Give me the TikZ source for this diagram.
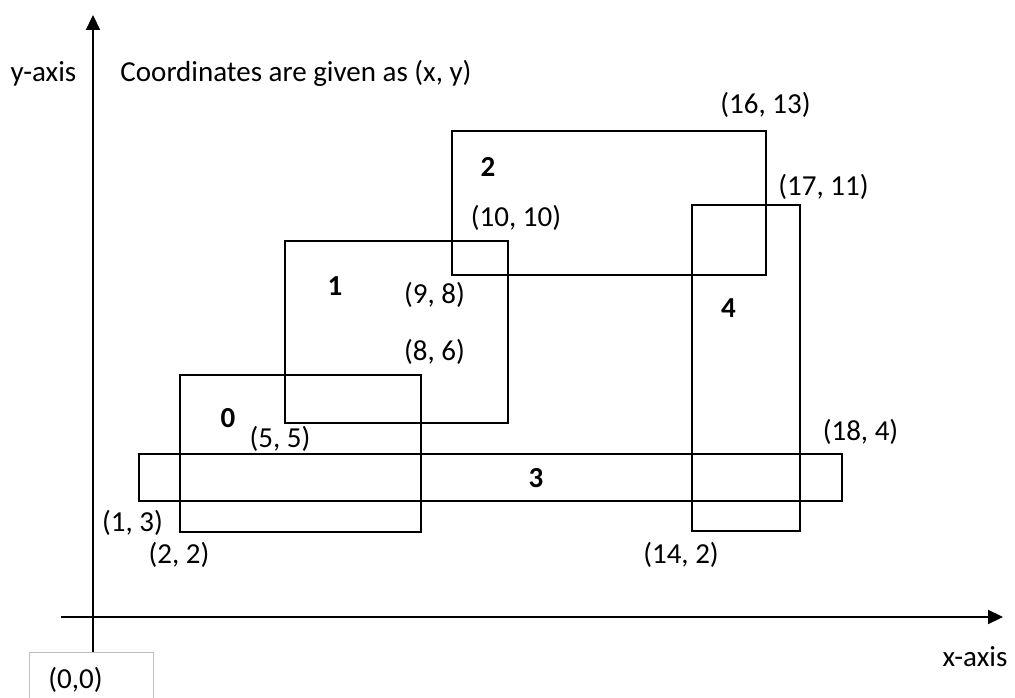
\documentclass[tikz,border=0pt]{standalone}
\usepackage{fontspec}
\setmainfont{Carlito}
\usetikzlibrary{arrows.meta}
\begin{document}
\begin{tikzpicture}[x = 1pt, y = -1pt, line width = 2.2pt,
	txt/.style = {anchor = base, inner sep = 0pt, font = \fontsize{29}{34}\selectfont},
	num/.style = {txt, font = \fontsize{29}{34}\selectfont\bfseries},
	axis/.style = {-{Triangle[length = 15pt, width = 14pt]}}]
	\useasboundingbox (0, 0) rectangle (1015, 698);
	% axes
	\coordinate (ybot) at (93, 653);
	\coordinate (ytop) at (93, 15);
	\coordinate (xleft) at (61, 617);
	\coordinate (xright) at (1003, 617);
	\draw [axis] (ybot) -- (ytop);
	\draw [axis] (xleft) -- (xright);
	\node [txt] (ylab) at (43.5, 82) {y-axis};
	\node [txt] (xlab) at (975, 666) {x-axis};
	\node [txt] (note) at (296, 82) {Coordinates are given as (x, y)};
	\draw [line width = 1pt, black!25] (29, 652) rectangle (153, 702);
	\node [txt] (origin) at (75.5, 688) {(0,0)};
	% rectangles
	\draw (180, 375) rectangle (421, 532);
	\draw (285, 241) rectangle (508, 423);
	\draw (452, 131) rectangle (766, 275);
	\draw (139, 454) rectangle (842, 501);
	\draw (692, 205) rectangle (800, 531);
	% rectangle numbers
	\node [num] (n0) at (228, 427) {0};
	\node [num] (n1) at (335, 295) {1};
	\node [num] (n2) at (488, 177) {2};
	\node [num] (n3) at (536, 487) {3};
	\node [num] (n4) at (728.5, 317) {4};
	% corner labels
	\node [txt] (c55) at (280, 447) {(5, 5)};
	\node [txt] (c13) at (132.5, 531) {(1, 3)};
	\node [txt] (c22) at (179, 563) {(2, 2)};
	\node [txt] (c98) at (434.5, 303) {(9, 8)};
	\node [txt] (c86) at (434.5, 360) {(8, 6)};
	\node [txt] (c1010) at (516, 226) {(10, 10)};
	\node [txt] (c1613) at (765.5, 114) {(16, 13)};
	\node [txt] (c1711) at (823.5, 195) {(17, 11)};
	\node [txt] (c184) at (860.5, 440) {(18, 4)};
	\node [txt] (c142) at (681, 563) {(14, 2)};
\end{tikzpicture}
\end{document}
